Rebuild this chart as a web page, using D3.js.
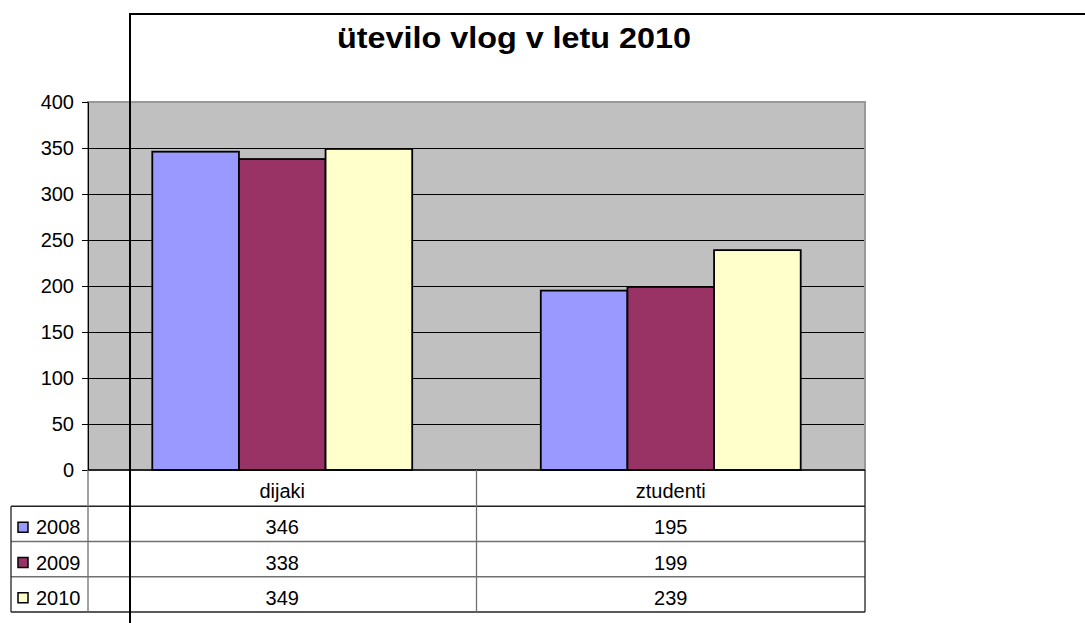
<!DOCTYPE html>
<html>
<head>
<meta charset="utf-8">
<script src="https://cdn.jsdelivr.net/npm/d3@7"></script>
<style>
  body { margin: 0; background: #fff; }
  text { font-family: "Liberation Sans", Arial, sans-serif; }
</style>
</head>
<body>
<div id="chart"></div>
<script>
// data
var categories = ["dijaki", "ztudenti"];
var series = ["2008", "2009", "2010"];
var values2008 = [346, 195];
var values2009 = [338, 199];
var values2010 = [349, 239];
var yTicks = [0, 50, 100, 150, 200, 250, 300, 350, 400];
var colors = ["#9999FF", "#993366", "#FFFFCC"];
var title = "ütevilo vlog v letu 2010";

var allValues = [values2008, values2009, values2010];

var svgWidth = 1085, svgHeight = 623;
var plot = {left: 88, right: 865, top: 102, bottom: 470};

var svg = d3.select("#chart")
  .append("svg")
    .attr("width", svgWidth)
    .attr("height", svgHeight);

// scales
var y = d3.scaleLinear()
    .domain([0, 400])
    .range([plot.bottom, plot.top]);

var x = d3.scaleBand()
    .domain(categories)
    .range([plot.left, plot.right])
    .paddingInner(0.331)
    .paddingOuter(0.1655);

var x1 = d3.scaleBand()
    .domain(series)
    .range([0, x.bandwidth()]);

var color = d3.scaleOrdinal().domain(series).range(colors);

// plot area background
svg.append("rect")
    .attr("x", plot.left)
    .attr("y", plot.top)
    .attr("width", plot.right - plot.left)
    .attr("height", plot.bottom - plot.top)
    .attr("fill", "#C0C0C0")
    .attr("stroke", "#999")
    .attr("stroke-width", 2);

// gridlines
svg.append("g")
  .selectAll("line")
  .data(yTicks.filter(function(d) { return d > 0 && d < 400; }))
  .enter()
  .append("line")
    .attr("x1", plot.left)
    .attr("x2", plot.right - 1)
    .attr("y1", function(d) { return y(d) + 0.5; })
    .attr("y2", function(d) { return y(d) + 0.5; })
    .attr("stroke", "#000")
    .attr("stroke-width", 1.2);

// bars
var groups = svg.append("g")
  .selectAll("g")
  .data(categories)
  .enter()
  .append("g")
    .attr("transform", function(d) { return "translate(" + x(d) + ",0)"; });

groups.selectAll("rect")
  .data(function(d, i) {
    return series.map(function(s, j) { return {s: s, v: allValues[j][i]}; });
  })
  .enter()
  .append("rect")
    .attr("x", function(d) { return x1(d.s); })
    .attr("y", function(d) { return y(d.v); })
    .attr("width", x1.bandwidth())
    .attr("height", function(d) { return y(0) - y(d.v); })
    .attr("fill", function(d) { return color(d.s); })
    .attr("stroke", "#000")
    .attr("stroke-width", 1.8);

// y axis
var yAxis = svg.append("g")
    .attr("transform", "translate(" + plot.left + ",0)")
    .call(d3.axisLeft(y).tickValues(yTicks).tickSize(6).tickPadding(8));
yAxis.select(".domain").attr("stroke", "#000");
yAxis.selectAll(".tick line").attr("stroke", "#000");
yAxis.selectAll(".tick text")
    .attr("font-size", "20px")
    .attr("font-family", "Liberation Sans, Arial, sans-serif")
    .attr("fill", "#000");

// x axis line
svg.append("line")
    .attr("x1", plot.left)
    .attr("x2", plot.right)
    .attr("y1", y(0))
    .attr("y2", y(0))
    .attr("stroke", "#000")
    .attr("stroke-width", 1.5);

// data table
var rowNames = ["head"].concat(series);
var row = d3.scaleBand()
    .domain(rowNames)
    .range([471, 612]);

var colLeft = x(categories[0]) - x.step() * x.paddingOuter();
var table = svg.append("g");

// horizontal lines
table.selectAll("line.h")
  .data(series)
  .enter()
  .append("line")
    .attr("class", "h")
    .attr("x1", 11)
    .attr("x2", plot.right)
    .attr("y1", function(d) { return row(d); })
    .attr("y2", function(d) { return row(d); })
    .attr("stroke", function(d, i) { return i === 0 ? "#222" : "#707070"; })
    .attr("stroke-width", 1.3);
table.append("line")
    .attr("x1", 11).attr("x2", plot.right)
    .attr("y1", row.range()[1]).attr("y2", row.range()[1])
    .attr("stroke", "#222").attr("stroke-width", 1.3);

// vertical lines
table.append("line")
    .attr("x1", 11).attr("x2", 11)
    .attr("y1", row(series[0])).attr("y2", row.range()[1])
    .attr("stroke", "#222").attr("stroke-width", 1.3);
table.selectAll("line.v")
  .data(categories.concat(["end"]))
  .enter()
  .append("line")
    .attr("class", "v")
    .attr("x1", function(d, i) { return colLeft + i * x.step(); })
    .attr("x2", function(d, i) { return colLeft + i * x.step(); })
    .attr("y1", y(0))
    .attr("y2", row.range()[1])
    .attr("stroke", function(d, i) { return i === 2 ? "#222" : "#707070"; })
    .attr("stroke-width", 1.3);

// category labels
table.selectAll("text.cat")
  .data(categories)
  .enter()
  .append("text")
    .attr("class", "cat")
    .attr("x", function(d) { return x(d) + x.bandwidth() / 2; })
    .attr("y", row("head") + 27)
    .attr("text-anchor", "middle")
    .attr("font-size", "20px")
    .text(function(d) { return d; });

// values
series.forEach(function(s, j) {
  table.selectAll("text.v" + s)
    .data(allValues[j])
    .enter()
    .append("text")
      .attr("class", "v" + s)
      .attr("x", function(d, i) { return x(categories[i]) + x.bandwidth() / 2; })
      .attr("y", row(s) + 28)
      .attr("text-anchor", "middle")
      .attr("font-size", "20px")
      .text(function(d) { return d; });

  // legend key
  table.append("rect")
      .attr("x", 18)
      .attr("y", row(s) + 16)
      .attr("width", 10)
      .attr("height", 10)
      .attr("fill", colors[j])
      .attr("stroke", "#000")
      .attr("stroke-width", 1.5);
  table.append("text")
      .attr("x", 36)
      .attr("y", row(s) + 28)
      .attr("font-size", "20px")
      .text(s);
});

// outer frame of chart object
svg.append("path")
    .attr("d", "M130," + svgHeight + " L130,14 L" + svgWidth + ",14")
    .attr("fill", "none")
    .attr("stroke", "#000")
    .attr("stroke-width", 2);

// title
svg.append("text")
    .attr("x", 514)
    .attr("y", 48)
    .attr("text-anchor", "middle")
    .attr("font-size", "30px")
    .attr("font-weight", "bold")
    .attr("textLength", 354)
    .attr("lengthAdjust", "spacingAndGlyphs")
    .text(title);
</script>
</body>
</html>
